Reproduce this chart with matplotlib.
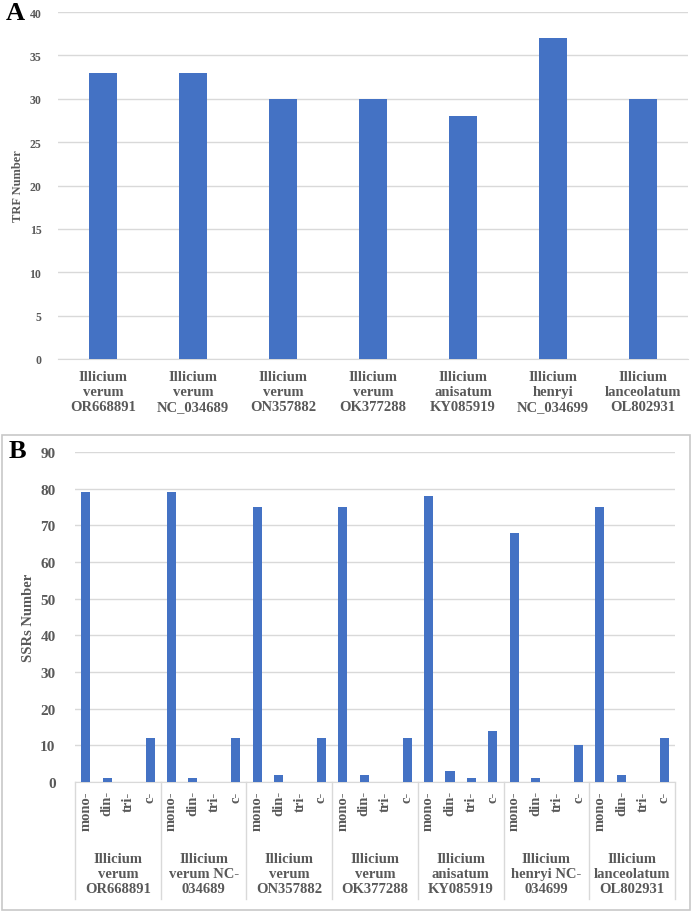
import numpy as np
import matplotlib.pyplot as plt
from matplotlib.patches import Rectangle
import matplotlib.transforms as mtransforms

# panel A data
trf_labels = ["Illicium\nverum\nOR668891", "Illicium\nverum\nNC_034689",
              "Illicium\nverum\nON357882", "Illicium\nverum\nOK377288",
              "Illicium\nanisatum\nKY085919", "Illicium\nhenryi\nNC_034699",
              "Illicium\nlanceolatum\nOL802931"]
trf_counts = [33, 33, 30, 30, 28, 37, 30]

# panel B data
ssr_groups = ["Illicium\nverum\nOR668891", "Illicium\nverum NC-\n034689",
              "Illicium\nverum\nON357882", "Illicium\nverum\nOK377288",
              "Illicium\nanisatum\nKY085919", "Illicium\nhenryi NC-\n034699",
              "Illicium\nlanceolatum\nOL802931"]
ssr_types = ["mono-", "din-", "tri-", "c-"]
ssr_mono = [79, 79, 75, 75, 78, 68, 75]
ssr_din = [1, 1, 2, 2, 3, 1, 2]
ssr_tri = [0, 0, 0, 0, 1, 0, 0]
ssr_c = [12, 12, 12, 12, 14, 10, 12]

BLUE = "#4472C4"
GRAY = "#595959"
GRID = "#d9d9d9"
plt.rcParams["font.family"] = ["Liberation Serif", "DejaVu Serif"]
plt.rcParams["font.weight"] = "bold"
plt.rcParams["axes.labelweight"] = "bold"

W, H = 699, 912
fig = plt.figure(figsize=(W / 100, H / 100), dpi=100)


def ax_rect(l, t, r, b):
    return [l / W, 1 - b / H, (r - l) / W, (b - t) / H]


# ---------- panel A ----------
axA = fig.add_axes(ax_rect(58, 13, 688, 360))
xa = np.arange(len(trf_counts))
axA.bar(xa, trf_counts, width=0.31, color=BLUE, zorder=3)
axA.set_xlim(-0.5, len(trf_counts) - 0.5)
axA.set_ylim(0, 40)
axA.set_yticks(np.arange(0, 41, 5))
axA.yaxis.grid(True, color=GRID, lw=1, zorder=0)
axA.set_xticks(xa)
axA.set_xticklabels(trf_labels, fontsize=10.5, color=GRAY, linespacing=1.2)
axA.tick_params(axis="y", labelsize=8.5, colors=GRAY, length=0, pad=12)
axA.tick_params(axis="x", length=0, pad=8)
for s in ["top", "right", "left"]:
    axA.spines[s].set_visible(False)
axA.spines["bottom"].set_color(GRID)
axA.set_ylabel("TRF Number", fontsize=9, color=GRAY, labelpad=4)
fig.text(6 / W, 1 - 13 / H, "A", fontsize=19, fontweight="bold", color="black",
         ha="left", va="center")

# ---------- panel B ----------
fig.patches.append(Rectangle((2 / W, 1 - 911 / H), 688 / W, 475 / H,
                             transform=fig.transFigure, fill=False,
                             edgecolor="#c8c8c8", lw=1.2))
axB = fig.add_axes(ax_rect(75, 453, 675, 783))
series = [ssr_mono, ssr_din, ssr_tri, ssr_c]
n_types = len(ssr_types)
vals = np.array(series).T.ravel()
xb = np.arange(len(vals))
axB.bar(xb, vals, width=0.42, color=BLUE, zorder=3)
axB.set_xlim(-0.5, len(vals) - 0.5)
axB.set_ylim(0, 90)
axB.set_yticks(np.arange(0, 91, 10))
axB.yaxis.grid(True, color=GRID, lw=1, zorder=0)
axB.set_xticks(xb)
axB.set_xticklabels(ssr_types * len(ssr_groups), rotation=90, fontsize=10.5,
                    color=GRAY, va="top")
axB.tick_params(axis="y", labelsize=11, colors=GRAY, length=0, pad=14)
axB.tick_params(axis="x", length=0, pad=6)
for s in ["top", "right", "left"]:
    axB.spines[s].set_visible(False)
axB.spines["bottom"].set_color(GRID)
axB.set_ylabel("SSRs Number", fontsize=10.5, color=GRAY, labelpad=4)

trans = mtransforms.blended_transform_factory(axB.transData, axB.transAxes)
ax_h = (783 - 453)
for i in range(len(ssr_groups) + 1):
    xs = i * n_types - 0.5
    axB.plot([xs, xs], [0, -(900 - 783) / ax_h], transform=trans, color=GRID,
             lw=1, clip_on=False)
for i, g in enumerate(ssr_groups):
    xc = i * n_types + (n_types - 1) / 2
    axB.text(xc, -(875 - 783) / ax_h, g, transform=trans, ha="center", va="center",
             fontsize=10.5, color=GRAY, linespacing=1.2)
fig.text(9 / W, 1 - 452 / H, "B", fontsize=19, fontweight="bold", color="black",
         ha="left", va="center")

fig.savefig("out.png", dpi=100)
